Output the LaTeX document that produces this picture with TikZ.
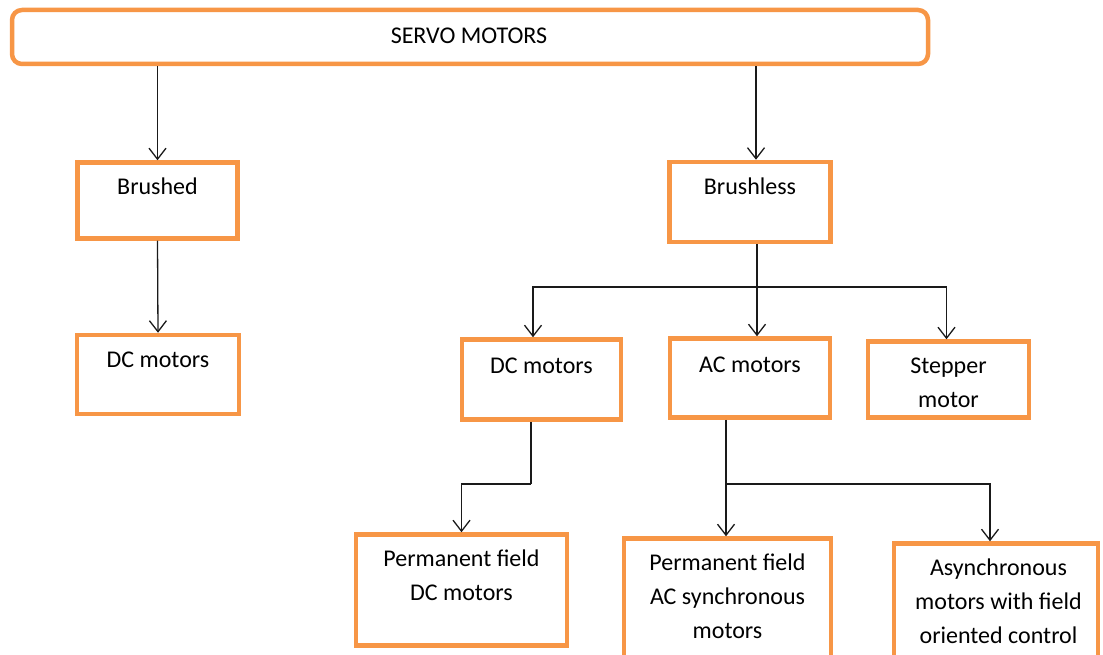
\documentclass[tikz,border=0pt]{standalone}
\usepackage{fontspec}
\setmainfont{Carlito}
\usetikzlibrary{arrows.meta}
\definecolor{boxorange}{HTML}{F79646}
\definecolor{linegray}{HTML}{1A1A1A}
\tikzset{
  boxnode/.style={draw=boxorange, line width=4.5pt, inner sep=0pt, fill=white},
  lbl/.style={inner sep=0pt, anchor=base, align=center, font=\fontsize{24}{34}\selectfont, text=black},
  arr/.style={draw=linegray, line width=1.3pt, -{Straight Barb[length=11pt,width=17pt,line width=1.3pt]}},
  ln/.style={draw=linegray, line width=1.3pt}
}
\begin{document}
\begin{tikzpicture}[x=1pt,y=-1pt]
\useasboundingbox (0,0) rectangle (1103,655);
% boxes
\node[boxnode, rounded corners=10pt, minimum width=916pt, minimum height=54pt] (top) at (470,37) {};
\node[boxnode, minimum width=160pt, minimum height=76pt] (brushed) at (157.5,200.5) {};
\node[boxnode, minimum width=162pt, minimum height=79pt] (dcl) at (158,374.5) {};
\node[boxnode, minimum width=161pt, minimum height=80pt] (brushless) at (750,202) {};
\node[boxnode, minimum width=159pt, minimum height=80pt] (dcm) at (541.5,379.5) {};
\node[boxnode, minimum width=160pt, minimum height=79pt] (acm) at (750,378) {};
\node[boxnode, minimum width=161pt, minimum height=76pt] (stp) at (948.5,379.5) {};
\node[boxnode, minimum width=211pt, minimum height=111pt] (pdc) at (461.5,590) {};
\node[boxnode, minimum width=207pt, minimum height=122pt] (pac) at (727.5,599.5) {};
\node[boxnode, minimum width=204pt, minimum height=117pt] (asy) at (996,602) {};
% labels (anchor = baseline of the last line)
\node[lbl] (ttop) at (469,44) {SERVO MOTORS};
\node[lbl] (tbrushed) at (157.5,195) {Brushed};
\node[lbl] (tdcl) at (158,367) {DC motors};
\node[lbl] (tbrushless) at (750,195) {Brushless};
\node[lbl] (tdcm) at (541.5,373) {DC motors};
\node[lbl] (tacm) at (750,372) {AC motors};
\node[lbl] (tstp) at (948.5,407) {Stepper\\motor};
\node[lbl] (tpdc) at (461.5,600) {Permanent field\\DC motors};
\node[lbl] (tpac) at (727.5,638) {Permanent field\\AC synchronous\\motors};
\node[lbl] (tasy) at (998.5,643) {Asynchronous\\motors with field\\oriented control};
% connectors
\draw[arr] (brushed.north |- top.south) -- (brushed.north);
\draw[arr] ([xshift=6pt]brushless.north |- top.south) -- ([xshift=6pt]brushless.north);
\draw[arr] (brushed.south) -- (dcl.north);
\draw[arr] ([xshift=7pt]brushless.south) -- ([xshift=7pt]acm.north);
\coordinate (br1) at (757,287);
\draw[arr] (br1) -| ([xshift=-8.5pt]dcm.north);
\draw[arr] (br1) -| ([xshift=-2pt]stp.north);
\coordinate (br2) at (531,484);
\draw[ln] ([xshift=-10.5pt]dcm.south) -- (br2);
\draw[arr] (br2) -| (pdc.north);
\coordinate (br3) at (726,484);
\draw[arr] ([xshift=-24pt]acm.south) -- ([xshift=-1.5pt]pac.north);
\draw[arr] (br3) -| ([xshift=-6pt]asy.north);
\end{tikzpicture}
\end{document}
